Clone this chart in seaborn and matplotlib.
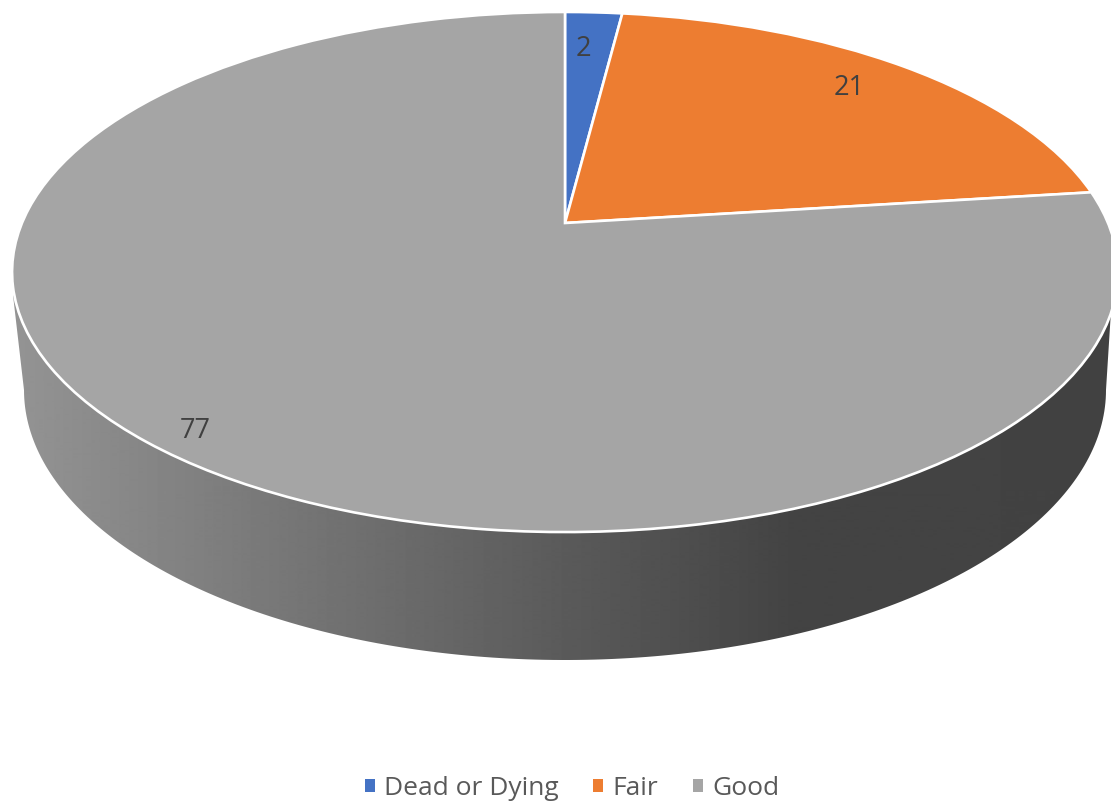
import numpy as np
import seaborn as sns
import matplotlib
matplotlib.use('Agg')
import matplotlib.pyplot as plt
from matplotlib.patches import Polygon
from matplotlib.transforms import Transform

categories = ['Dead or Dying', 'Fair', 'Good']
values = [2, 21, 77]
colors = ['#4472c4', '#ed7d31', '#a5a5a5']

sns.set_theme(style='white')
plt.rcParams['font.family'] = ['Open Sans', 'DejaVu Sans']


# perspective of the tilted pie, unit circle -> pixel coordinates
class TiltTransform(Transform):
    input_dims = 2
    output_dims = 2
    is_affine = False

    def __init__(self, cx=565, cy=223, a=543, b=250.8, k=0.1885):
        super().__init__()
        self.cx, self.cy, self.a, self.b, self.k = cx, cy, a, b, k

    def transform_non_affine(self, values):
        values = np.asarray(values, dtype=float)
        u, v = values[:, 0], values[:, 1]
        w = 1 + self.k * v
        return np.column_stack([self.cx + self.a * u / w, self.cy - self.b * v / w])


fig = plt.figure(figsize=(11.11, 8.05), dpi=100)
ax = fig.add_axes([0, 0, 1, 1])
tilt = TiltTransform()

wedges, _ = ax.pie(values, colors=colors, startangle=90, counterclock=False,
                   wedgeprops={'edgecolor': 'white', 'linewidth': 1.9})
for w in wedges:
    w.set_transform(tilt + ax.transData)
    w.set_zorder(3)

# side wall of the disc, horizontal shading clipped to its outline
t = np.linspace(np.pi, 0, 200)
wall_x = 565 + 541 * np.cos(t)
wall_y = 390 + 270 * np.sin(t)
outline = np.vstack([[13, 295], np.column_stack([wall_x, wall_y]), [1112, 295]])
wall = Polygon(outline, closed=True, transform=ax.transData, facecolor='none', edgecolor='none')
ax.add_patch(wall)

xs = np.arange(0, 1112)
shade = np.interp(xs, [12, 300, 550, 790, 1111], [0.58, 0.46, 0.36, 0.265, 0.26])
img = ax.imshow(shade[np.newaxis, :], cmap='gray', vmin=0, vmax=1, aspect='auto',
                extent=[0, 1111, 700, 280], zorder=1)
img.set_clip_path(wall)

ax.set_aspect('auto')
ax.set_xlim(0, 1111)
ax.set_ylim(805, 0)
ax.axis('off')

# value labels sit along the middle of each slice
label_radius = [0.82, 0.85, 0.92]
label_nudge = [0.8, 1.5, 1.5]
for w, val, r, d in zip(wedges, values, label_radius, label_nudge):
    mid = np.deg2rad((w.theta1 + w.theta2) / 2 + d)
    ax.text(r * np.cos(mid), r * np.sin(mid), str(val), transform=tilt + ax.transData,
            ha='center', va='center_baseline', fontsize=19.5, color='#404040', zorder=5)

leg = ax.legend(wedges, categories, loc='center', bbox_to_anchor=(572, 788),
                bbox_transform=ax.transData, ncol=3, frameon=False, fontsize=19,
                handlelength=0.38, handleheight=0.38, handletextpad=0.36, columnspacing=1.3,
                labelcolor='#595959')
for h in leg.legend_handles:
    h.set_edgecolor('none')

fig.savefig('out.png', dpi=100)
